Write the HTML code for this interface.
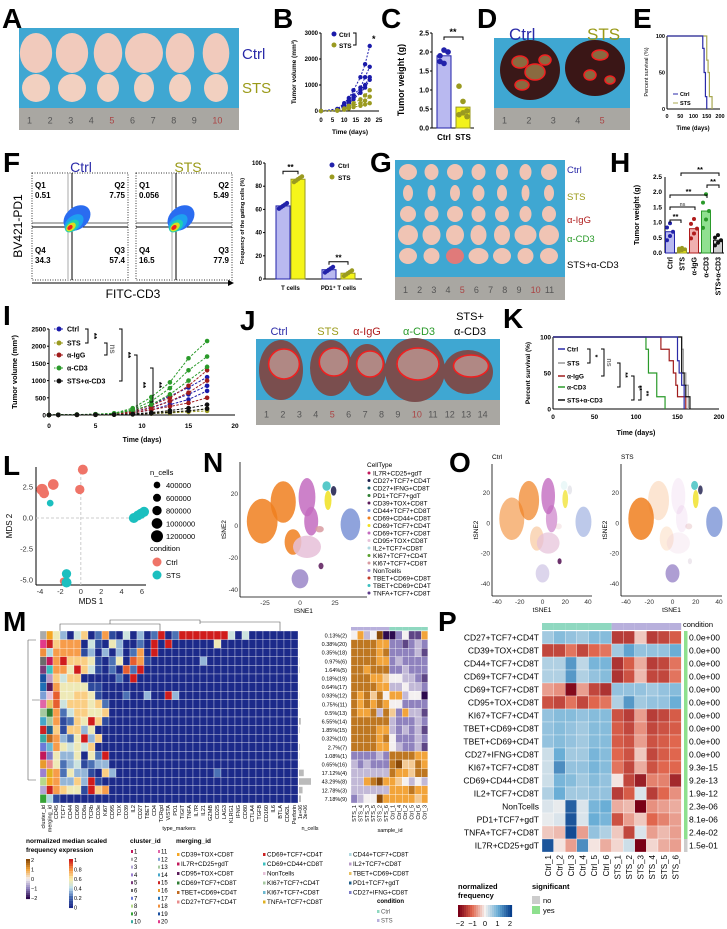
<!DOCTYPE html>
<html><head><meta charset="utf-8"><style>
html,body{margin:0;padding:0;background:#fff;}
svg{display:block;font-family:"Liberation Sans",Arial,sans-serif;}
</style></head><body>
<svg id="fig" xmlns="http://www.w3.org/2000/svg" width="727" height="929" viewBox="0 0 727 929">
<rect x="0" y="0" width="727" height="929" fill="#fff"/>
<g font-weight="bold" font-size="28" fill="#000">
<text x="2" y="28">A</text>
<text x="273" y="28">B</text>
<text x="381" y="28">C</text>
<text x="477" y="28">D</text>
<text x="633" y="28">E</text>
<text x="3" y="172">F</text>
<text x="370" y="172">G</text>
<text x="610" y="172">H</text>
<text x="3" y="325">I</text>
<text x="240" y="330">J</text>
<text x="503" y="328">K</text>
<text x="3" y="475">L</text>
<text x="203" y="472">N</text>
<text x="449" y="472">O</text>
<text x="3" y="631">M</text>
<text x="438" y="631">P</text>
</g>
</svg>
<script>
// ---------- DATA ----------
const bDays=[0,7,10,12,14,17,19,21];
const bCtrl=[[0,80,300,500,800,1300,1800,2500],[0,60,250,400,600,900,1300,1700],[0,50,200,350,500,800,1000,1300],[0,40,150,300,450,700,900,1200]];
const bSTS=[[0,30,100,200,300,450,600,800],[0,20,80,150,220,300,400,550],[0,10,50,100,150,200,250,300]];
const bYTicks=[0,1000,2000,3000];
const bXTicks=[0,5,10,15,20,25];
const cGroups=["Ctrl","STS"];
const cMeans=[1.9,0.55];
const cPoints=[[1.9,2.05,2.0,1.75,1.7,2.0],[1.1,0.7,0.45,0.35,0.4,0.3]];
const cTicks=[0.0,0.5,1.0,1.5,2.0,2.5];
const eCtrlT=[0,130,135,140,145,150];
const eCtrlP=[100,100,83,50,17,0];
const eSTST=[0,140,150,155,160,170];
const eSTSP=[100,100,67,50,17,0];
const eXTicks=[0,50,100,150,200];
const eYTicks=[0,50,100];
const fCats=["T cells","PD1⁺ T cells"];
const fCtrl=[63,8];
const fSTS=[86,5];
const fTicks=[0,20,40,60,80,100];
const hGroups=["Ctrl","STS","α-IgG","α-CD3","STS+α-CD3"];
const hMeans=[0.7,0.12,0.8,1.38,0.42];
const hTicks=[0.0,0.5,1.0,1.5,2.0,2.5];
const iDays=[0,1,3,5,7,9,11,13,15,17];
const iCtrl=[[0,5,10,20,40,120,300,550,800,1100],[0,5,10,15,30,90,220,400,600,850],[0,4,8,12,25,60,150,300,450,700]];
const iSTS=[[0,3,5,8,12,30,60,90,120,180],[0,2,4,6,10,20,40,60,90,120]];
const iIgG=[[0,5,10,20,40,120,280,500,850,1300],[0,5,10,15,30,90,200,400,650,1000],[0,4,8,12,25,60,150,250,350,500]];
const iCD3=[[0,6,12,25,50,200,520,950,1650,2150],[0,5,10,20,45,160,400,780,1300,1700],[0,5,10,18,40,130,300,600,1000,1400]];
const iCombo=[[0,3,5,8,12,30,70,130,200,300],[0,2,4,6,10,20,45,80,120,180]];
const iYTicks=[0,500,1000,1500,2000,2500];
const iXTicks=[0,5,10,15,20];
const kCtrlT=[0,145,150,152,155,158],kCtrlP=[100,100,67,50,33,0];
const kSTST=[0,152,155,157,160,163],kSTSP=[100,100,83,50,33,0];
const kIgGT=[0,130,140,145,148,150,160],kIgGP=[100,83,67,50,33,17,0];
const kCD3T=[0,112,115,125,135],kCD3P=[100,83,50,17,0];
const kComboT=[0,150,155,158,160,165],kComboP=[100,100,50,33,17,0];
const kXTicks=[0,50,100,150,200];
const kYTicks=[0,50,100];
const lCtrlX=[-3.8,-3.6,-2.7,0.2,-0.1,-1.7];
const lCtrlY=[2.3,2.0,2.7,3.9,2.3,-5.1];
const lCtrlN=[1100000,900000,1000000,900000,800000,500000];
const lSTSX=[-3.0,5.2,5.6,5.9,6.2,-1.4,-1.4];
const lSTSY=[1.2,0.0,0.2,0.35,0.5,-4.5,-5.2];
const lSTSN=[400000,900000,900000,900000,900000,800000,900000];
const lXTicks=[-4,-2,0,2,4,6];
const lYTicks=[2.5,0.0,-2.5,-5.0];
const lSizes=[400000,600000,800000,1000000,1200000];
const cellTypes=["IL7R+CD25+gdT","CD27+TCF7+CD4T","CD27+IFNG+CD8T","PD1+TCF7+gdT","CD39+TOX+CD8T","CD44+TCF7+CD8T","CD69+CD44+CD8T","CD69+TCF7+CD4T","CD69+TCF7+CD8T","CD95+TOX+CD8T","IL2+TCF7+CD8T","KI67+TCF7+CD4T","KI67+TCF7+CD8T","NonTcells","TBET+CD69+CD8T","TBET+CD69+CD4T","TNFA+TCF7+CD8T"];
const cellColors=["#c2185b","#1a1a4a","#1f5f6b","#2e7d32","#5a1a5a","#7b93d6","#f07f1e","#f0e020","#c36bc0","#e6c0d8","#b0d8e0","#5aa02c","#d89aa0","#9a86c8","#c0392b","#3bbfbf","#5b3a8a"];
const blobType=[6,6,6,8,8,9,13,5,7,15,1,4,12];
const blobCX=[-27,-12,-5,5,8,5,0,36,20,19,24,15,14];
const blobCY=[3,15,-10,18,3,-13,-33,1,16,25,22,-25,-2];
const blobRX=[11,9,6,6,5,10,6,7,2.5,3,2,1.8,3];
const blobRY=[14,13,8,12,9,7,6,10,6,3,3,2,2];
const oCtrlAlpha=[0.55,0.7,0.3,0.8,0.6,0.7,0.35,0.5,0.7,0.1,0.1,0.9,0.2];
const oSTSAlpha=[0.85,0.2,0.15,0.1,0.1,0.2,0.8,0.8,0.8,0.8,0.8,0.1,0.3];
const nTicksX=[-25,0,25],nTicksY=[20,0,-20,-40];
const oTicksX=[-40,-20,0,20,40],oTicksY=[20,0,-20,-40];
const mMarkers=["CD45","TCF7","CD44","CD69","CD8a","TCRb","CD3e","Ki67","CD95","TOX","CD39","IL2","CD27","TBET","CD4","TCRgd","VISTA","PD1","TIGIT","TNFA","IL7R","IL21","GZMB","CD25","LAG3","KLRG1","IFNG","CD80","CTLA4","TGFB","CD160","IL6","BTLA","CD62L","Perforin"];
const mRows=["53046027104030290299999994040000000","67770410530020909000000500000000000","77771303030270900000000000000000000","79666510250871000000030000000000000","77596410208290000000000000000000000","64660000020900000000000000000000000","75555110000000000000000000000000000","85566510002003009300000000000000000","84666562000000000000000000000000000","72466556000000000000000000000000000","71265961000000000000000000000000000","61663500000000000000000000000000000","73259360000000000000000000000000000","75454600000000000000000000000000000","53350529000000000000000000000000000","52341233000000000000000000000000000","72533106300000000000000200000000000","73363910000000000000000000000000000","76551967000000000000000000000000000","10000000000000000000000000000000000"];
const mClusters=[2,20,18,6,5,19,17,12,11,13,14,15,10,7,1,16,4,8,3,9];
const mPct=["0.13%(2)","0.38%(20)","0.35%(18)","0.97%(6)","1.64%(5)","0.18%(19)","0.64%(17)","0.93%(12)","0.75%(11)","0.5%(13)","6.55%(14)","1.85%(15)","0.32%(10)","2.7%(7)","1.08%(1)","0.65%(16)","17.12%(4)","43.29%(8)","12.78%(3)","7.18%(9)"];
const mCells=[0.13,0.38,0.35,0.97,1.64,0.18,0.64,0.93,0.75,0.5,6.55,1.85,0.32,2.7,1.08,0.65,17.12,43.29,12.78,7.18];
const sampleIds=["STS_1","STS_4","STS_3","STS_5","STS_2","STS_6","Ctrl_1","Ctrl_4","Ctrl_2","Ctrl_5","Ctrl_6","Ctrl_3"];
const sRows=["463480024116","777766221232","777767222231","777766232222","776777223222","777665443321","777766334332","767574663440","767676442222","766737526331","777777322232","777766323231","777767422232","777766432231","222232777766","323222785576","333333766577","336786654343","333333666766","234486666656"];
const clusterColors=["#c2185b","#aaaaaa","#b2a6d6","#9b7fd1","#7a3a7a","#6b6b6b","#6c7ad8","#b6d98a","#36a336","#3aa9a0","#e066a8","#7d9fd6","#a6c9a0","#45a6c9","#cc2222","#e89a2c","#1f6fb5","#f08f3c","#1a4fa0","#e23a8a"];
const mergeColors=["#f5a623","#cc2222","#b0d8e0","#c2185b","#3bbfbf","#b89bc8","#5a1a5a","#e6c0d8","#e8c060","#2e7d32","#a6c9a0","#1f5f8b","#c06a20","#6bb8d0","#7d7dc8","#e88c8c","#e0b020"];
const pRows=["CD27+TCF7+CD4T","CD39+TOX+CD8T","CD44+TCF7+CD8T","CD69+TCF7+CD4T","CD69+TCF7+CD8T","CD95+TOX+CD8T","KI67+TCF7+CD4T","TBET+CD69+CD8T","TBET+CD69+CD4T","CD27+IFNG+CD8T","KI67+TCF7+CD8T","CD69+CD44+CD8T","IL2+TCF7+CD8T","NonTcells","PD1+TCF7+gdT","TNFA+TCF7+CD8T","IL7R+CD25+gdT"];
const pCols=["Ctrl_1","Ctrl_2","Ctrl_3","Ctrl_4","Ctrl_5","Ctrl_6","STS_1","STS_2","STS_3","STS_4","STS_5","STS_6"];
const pVals=[
[.6,.8,.7,.6,.8,.8,-1.4,-1.4,-.3,-1.4,-1.3,-1.1],
[-1.3,-1.3,-.9,-1.3,-1.0,-.9,.6,1.1,.7,.7,.7,1.0],
[.5,.5,1.2,.4,.9,.9,-1.5,-1.1,-.5,-1.4,-1.3,-.9],
[.5,.5,1.2,.5,.7,.8,-1.5,-1.2,-.4,-1.3,-1.3,-.9],
[-.6,-.7,-1.9,-.6,-1.3,-1.5,.7,.7,.7,.6,.7,.8],
[-1.2,-1.3,-.9,-1.3,-1.0,-.9,.5,1.2,.6,.7,.7,1.0],
[.7,.8,.8,.7,.8,.8,-1.2,-1.4,-.6,-1.4,-1.3,-1.1],
[.7,.8,.7,.6,.8,.8,-1.1,-1.3,-.7,-1.3,-1.2,-1.1],
[.7,.8,.7,.6,.8,.8,-1.1,-1.2,-.6,-1.2,-1.1,-1.0],
[.3,1.0,.6,.6,.9,.8,-1.0,-1.2,-.3,-1.3,-1.1,-1.0],
[.3,1.3,.7,.7,.9,.8,-.9,-1.3,-.5,-1.2,-1.0,-1.0],
[.3,.9,.8,.6,.8,.7,-.1,-1.3,-1.7,-.8,-.8,-1.6],
[.5,1.0,.6,.6,.7,.7,-1.4,-1.1,.2,-1.4,-1.0,-.7],
[.2,.1,1.7,.2,.9,1.0,-.5,-.4,-2.0,-.7,-.6,-.5],
[.1,.2,1.8,.2,1.0,.9,-1.2,-.6,-.3,-1.0,-.8,-.6],
[-.3,-.4,1.9,-.6,.7,.5,-.3,-1.3,.2,-.6,-.4,-.6],
[1.8,-.1,-.6,1.3,-.1,-.5,-.2,.3,-2.0,-.2,-.5,-.6]];
const pPvals=["0.0e+00","0.0e+00","0.0e+00","0.0e+00","0.0e+00","0.0e+00","0.0e+00","0.0e+00","0.0e+00","0.0e+00","9.3e-15","9.2e-13","1.9e-12","2.3e-06","8.1e-06","2.4e-02","1.5e-01"];

// ---------- HELPERS ----------
const NS="http://www.w3.org/2000/svg";
const svg=document.getElementById('fig');
function el(tag,a,p){const e=document.createElementNS(NS,tag);for(const k in a)e.setAttribute(k,a[k]);(p||svg).appendChild(e);return e;}
function tx(x,y,s,a,p){const e=el('text',Object.assign({x:x,y:y,'font-size':8,fill:'#000'},a||{}),p);e.textContent=s;return e;}
function grp(name){const g=el('g',{});return g;}
function lin(d0,d1,r0,r1){return v=>r0+(v-d0)*(r1-r0)/(d1-d0);}
function line(x1,y1,x2,y2,a,p){return el('line',Object.assign({x1:x1,y1:y1,x2:x2,y2:y2,stroke:'#000','stroke-width':1},a||{}),p);}
function lerp(c1,c2,t){const a=[1,3,5].map(i=>parseInt(c1.substr(i,2),16)),b=[1,3,5].map(i=>parseInt(c2.substr(i,2),16));return 'rgb('+a.map((v,i)=>Math.round(v+(b[i]-v)*t)).join(',')+')';}
function ramp(stops,t){t=Math.max(0,Math.min(1,t));const n=stops.length-1;const i=Math.min(n-1,Math.floor(t*n));return lerp(stops[i],stops[i+1],t*n-i);}
const expRamp=["#1c2a8a","#3d63ad","#bfe0ee","#fbeca6","#f7923e","#d01c1c"];
const freqRamp=["#2d0a4e","#8f82be","#f4f0f0","#f2a43a","#8a4a08"];
const pRamp=["#7a0016","#e0664e","#f6f2f0","#6aaed6","#083f8c"];

function photo(name,x,y,w,h,rulerH,nums){
  const g=grp(name);
  const bg=el('rect',{x:x,y:y,width:w,height:h,fill:'#3fa7d2'},g);
  
  const ru=el('rect',{x:x,y:y+h-rulerH,width:w,height:rulerH,fill:'#a9a7a2'},g);
  
  for(let i=0;i<nums;i++){const t=tx(x+8+i*(w-14)/nums,y+h-rulerH*0.3,String(i+1),{'font-size':Math.min(9,rulerH*0.45),fill:i==4||i==9?'#a44':'#555'},g);}
  return g;
}
function tumor(g,cx,cy,rx,ry,fill,name){const e=el('ellipse',{cx:cx,cy:cy,rx:rx,ry:ry,fill:fill},g);return e;}

// ---------- A ----------
{const g=photo('panel-a-photo',19,28,220,102,22,10);
 const rw=[17,17,15,20,15,14],rs=[14,14,11,10,11,12];
 for(let i=0;i<6;i++){tumor(g,36+i*36,53,rw[i]*0.95,20,'#f1cabc','tumor-ctrl');tumor(g,36+i*36,88,rs[i],14,'#f2d0c0','tumor-sts');}
 const t1=tx(242,59,'Ctrl',{'font-size':15,fill:'#2a2aa8'});
 const t2=tx(242,93,'STS',{'font-size':15,fill:'#9a9a18'});}

// ---------- B ----------
{const g=grp('panel-b-tumor-growth');const X=lin(0,25,321,379),Y=lin(0,3000,111,33);
 line(321,33,321,111,{},g);line(321,111,379,111,{},g);
 bYTicks.forEach(v=>{const t=tx(318,Y(v)+2,String(v),{'font-size':6,'text-anchor':'end','font-weight':'bold'},g);line(319,Y(v),321,Y(v),{},g);});
 bXTicks.forEach(v=>{const t=tx(X(v),122,String(v),{'font-size':6,'text-anchor':'middle','font-weight':'bold'},g);});
 const xt=tx(350,134,'Time (days)',{'font-size':6.5,'text-anchor':'middle','font-weight':'bold'},g);
 const yt=tx(0,0,'Tumor volume (mm³)',{'font-size':6.5,'text-anchor':'middle','font-weight':'bold',transform:'translate(296,72) rotate(-90)'},g);
 [[bCtrl,'#1a1aaa','ctrl'],[bSTS,'#9a9a20','sts']].forEach(([set,c,n])=>set.forEach(s=>{
  const pl=el('polyline',{points:s.map((v,i)=>X(bDays[i])+','+Y(v)).join(' '),fill:'none',stroke:c,'stroke-width':1,'stroke-dasharray':'2,1.5'},g);
  s.forEach((v,i)=>{const d=el('circle',{cx:X(bDays[i]),cy:Y(v),r:2.2,fill:c},g);});}));
 const l1=el('circle',{cx:334,cy:34,r:2.5,fill:'#1a1aaa'},g);
 const l2=el('circle',{cx:334,cy:45,r:2.5,fill:'#9a9a20'},g);
 const t1=tx(339,37,'Ctrl',{'font-size':6.5,'font-weight':'bold'},g);
 const t2=tx(339,48,'STS',{'font-size':6.5,'font-weight':'bold'},g);
 const br=el('polyline',{points:'353,33 356,33 356,45 353,45',fill:'none',stroke:'#000'},g);
 const st=tx(372,42,'*',{'font-size':9,'font-weight':'bold'},g);}

// ---------- C ----------
{const g=grp('panel-c-tumor-weight');const Y=lin(0,2.5,128,33);
 line(432,33,432,128,{},g);line(432,128,474,128,{},g);
 cTicks.forEach(v=>{const t=tx(429,Y(v)+2.5,v.toFixed(1),{'font-size':7,'text-anchor':'end','font-weight':'bold'},g);line(430,Y(v),432,Y(v),{},g);});
 const yt=tx(0,0,'Tumor weight (g)',{'font-size':9,'text-anchor':'middle','font-weight':'bold',transform:'translate(404,80) rotate(-90)'},g);
 const cx=[444,463],fills=['#b9b9f0','#f2f21a'],strokes=['#2222aa','#9a9a20'];
 cGroups.forEach((gname,i)=>{const r=el('rect',{x:cx[i]-7,y:Y(cMeans[i]),width:14,height:128-Y(cMeans[i]),fill:fills[i],stroke:strokes[i]},g);
  cPoints[i].forEach((v,j)=>{const d=el('circle',{cx:cx[i]-4+(j%3)*4,cy:Y(v),r:2.8,fill:strokes[i]},g);});
  const t=tx(cx[i],140,gname,{'font-size':8,'text-anchor':'middle','font-weight':'bold'},g);});
 const br=el('polyline',{points:'444,40 444,37 463,37 463,40',fill:'none',stroke:'#000'},g);
 const st=tx(453,35,'**',{'font-size':9,'text-anchor':'middle','font-weight':'bold'},g);}

// ---------- D ----------
{const g=photo('panel-d-photo',494,38,136,92,22,5);
 tumor(g,530,70,30,30,'#3a1818','liver-ctrl');tumor(g,595,68,30,28,'#3a1616','liver-sts');
 [[520,62,8,6],[535,72,10,8],[545,60,6,5],[522,85,7,5],[600,55,8,5],[590,75,6,5],[610,80,5,4]].forEach(a=>{const e=el('ellipse',{cx:a[0],cy:a[1],rx:a[2],ry:a[3],fill:'#8a6a40',stroke:'#f02020','stroke-width':1.5},g);});
 const t1=tx(509,40,'Ctrl',{'font-size':17,fill:'#2a2aa8'});
 const t2=tx(587,40,'STS',{'font-size':17,fill:'#9a9a18'});}

// ---------- E ----------
{const g=grp('panel-e-survival');const X=lin(0,200,667,720),Y=lin(0,100,109,36);
 line(667,36,667,109,{},g);line(667,109,720,109,{},g);
 eXTicks.forEach(v=>{const t=tx(X(v),118,String(v),{'font-size':5.5,'text-anchor':'middle','font-weight':'bold'},g);});
 eYTicks.forEach(v=>{const t=tx(665,Y(v)+2,String(v),{'font-size':5.5,'text-anchor':'end','font-weight':'bold'},g);});
 const xt=tx(693,130,'Time (days)',{'font-size':6,'text-anchor':'middle','font-weight':'bold'},g);
 const yt=tx(0,0,'Percent survival (%)',{'font-size':5.5,'text-anchor':'middle',transform:'translate(648,72) rotate(-90)'},g);
 function step(T,P,c,n){let pts=[];for(let i=0;i<T.length;i++){if(i>0)pts.push(X(T[i])+','+Y(P[i-1]));pts.push(X(T[i])+','+Y(P[i]));}const p=el('polyline',{points:pts.join(' '),fill:'none',stroke:c,'stroke-width':1.2},g);}
 step(eSTST,eSTSP,'#a8a850','e-curve-sts');step(eCtrlT,eCtrlP,'#2a2aa8','e-curve-ctrl');
 line(673,94,678,94,{stroke:'#2a2aa8'},g);line(673,103,678,103,{stroke:'#a8a850'},g);
 const t1=tx(680,96,'Ctrl',{'font-size':5.5,'font-weight':'bold'},g);
 const t2=tx(680,105,'STS',{'font-size':5.5,'font-weight':'bold'},g);}

// ---------- F flow ----------
function flow(ox,name,q){const g=grp(name);
 const b=el('rect',{x:ox,y:173,width:96,height:107,fill:'none',stroke:'#333','stroke-dasharray':'1,1.5'},g);
 line(ox+40,173,ox+40,280,{},g);line(ox,227,ox+96,227,{},g);line(ox,223,ox+96,223,{stroke:'#666'},g);line(ox+36,173,ox+36,280,{stroke:'#aaa'},g);
 const cx=ox+40,cy=226;
 [['#2a6cf0',cx+5,cy-8,15,11],['#1ea0f0',cx+2,cy-3,11,7],['#20d0b0',cx,cy,8,5],['#d8e020',cx-1,cy+1,5.5,3.5],['#f02020',cx-2,cy+1.5,3,2]].forEach(c=>{const e=el('ellipse',{cx:c[1],cy:c[2],rx:c[3],ry:c[4],fill:c[0],transform:'rotate(-40 '+c[1]+' '+c[2]+')'},g);});
 const labs=[['Q1',3,188],[q[0],3,198],['Q2',93,188,'end'],[q[1],93,198,'end'],['Q4',3,253],[q[3],3,263],['Q3',93,253,'end'],[q[2],93,263,'end']];
 labs.forEach(l=>{const t=tx(ox+l[1],l[2],l[0],{'font-size':8,'font-weight':'bold','text-anchor':l[3]||'start'},g);});}
flow(32,'flow-ctrl',['0.51','7.75','57.4','34.3']);flow(136,'flow-sts',['0.056','5.49','77.9','16.5']);
{const a=el('line',{x1:32,y1:283,x2:230,y2:283,stroke:'#000'});
 const ah=el('polygon',{points:'234,283 228,280 228,286',fill:'#000'});
 const t1=tx(81,172,'Ctrl',{'font-size':14,fill:'#2a2aa8','text-anchor':'middle'});
 const t2=tx(188,172,'STS',{'font-size':14,fill:'#9a9a18','text-anchor':'middle'});
 const t3=tx(133,298,'FITC-CD3',{'font-size':12,'text-anchor':'middle'});
 const t4=tx(0,0,'BV421-PD1',{'font-size':12,'text-anchor':'middle',transform:'translate(22,226) rotate(-90)'});}
{const g=grp('panel-f-bar');const Y=lin(0,100,279,163);
 line(265,163,265,279,{},g);line(265,279,362,279,{},g);
 fTicks.forEach(v=>{const t=tx(262,Y(v)+2,String(v),{'font-size':6,'text-anchor':'end','font-weight':'bold'},g);line(263,Y(v),265,Y(v),{},g);});
 const yt=tx(0,0,'Frequency of the gating cells (%)',{'font-size':5.5,'text-anchor':'middle','font-weight':'bold',transform:'translate(244,221) rotate(-90)'},g);
 const cx=[[283,298],[329,348]];
 fCats.forEach((c,i)=>{[[fCtrl[i],'#b9b9f0','#2222aa','ctrl'],[fSTS[i],'#f5f51a','#9a9a20','sts']].forEach((d,j)=>{const r=el('rect',{x:cx[i][j]-7,y:Y(d[0]),width:14,height:279-Y(d[0]),fill:d[1],stroke:d[2]},g);
   for(let k=0;k<5;k++){const p=el('circle',{cx:cx[i][j]-4+k*2,cy:Y(d[0]+(k-2)*1.2),r:2.2,fill:d[2]},g);}});
  const t=tx((cx[i][0]+cx[i][1])/2,290,c,{'font-size':6,'text-anchor':'middle','font-weight':'bold'},g);
  const yb=Y(Math.max(fCtrl[i],fSTS[i]))-8;const br=el('polyline',{points:cx[i][0]+','+(yb+3)+' '+cx[i][0]+','+yb+' '+cx[i][1]+','+yb+' '+cx[i][1]+','+(yb+3),fill:'none',stroke:'#000'},g);
  const s=tx((cx[i][0]+cx[i][1])/2,yb-1,'**',{'font-size':8,'text-anchor':'middle','font-weight':'bold'},g);});
 const m1=el('circle',{cx:332,cy:165,r:2.5,fill:'#2222aa'},g);
 const m2=el('circle',{cx:332,cy:177,r:2.5,fill:'#9a9a20'},g);
 const t1=tx(338,168,'Ctrl',{'font-size':6.5,'font-weight':'bold'},g);
 const t2=tx(338,180,'STS',{'font-size':6.5,'font-weight':'bold'},g);}

// ---------- G ----------
{const g=photo('panel-g-photo',395,160,170,140,23,11);
 const rx=[[9,7,8,7,6,6,8],[5,4,5,6,5,4,5],[8,7,8,7,7,6,7],[10,9,9,8,8,11,10],[9,8,9,10,9,8,9]];
 for(let r=0;r<5;r++)for(let c=0;c<7;c++){tumor(g,408+c*23.5,172+r*21,rx[r][c],r==3?10:8,(r==4&&c==2)?'#e07a7a':'#f0c4b4','tumor-g');}
 const labs=[['Ctrl',170,'#2a2aa8'],['STS',197,'#9a9a18'],['α-IgG',220,'#b01c1c'],['α-CD3',239,'#2a9a2a'],['STS+α-CD3',265,'#000']];
 labs.forEach(l=>{const t=tx(567,l[1]+3,l[0],{'font-size':9.5,fill:l[2]});});}

// ---------- H ----------
{const g=grp('panel-h-tumor-weight');const Y=lin(0,2.5,253,177);
 line(665,177,665,253,{},g);line(665,253,724,253,{},g);
 hTicks.forEach(v=>{const t=tx(662,Y(v)+2,v.toFixed(1),{'font-size':6.5,'text-anchor':'end','font-weight':'bold'},g);});
 const yt=tx(0,0,'Tumor weight (g)',{'font-size':7.5,'text-anchor':'middle','font-weight':'bold',transform:'translate(639,215) rotate(-90)'},g);
 const fills=['#b9b9f0','#f2f21a','#f0b0b0','#90e090','#d0d0d0'],str=['#2222aa','#9a9a20','#b01c1c','#2a9a2a','#111'];
 hGroups.forEach((n,i)=>{const x=670+i*12;const r=el('rect',{x:x-4.5,y:Y(hMeans[i]),width:9,height:253-Y(hMeans[i]),fill:fills[i],stroke:str[i]},g);
  for(let k=0;k<5;k++){const p=el('circle',{cx:x-3+(k%3)*3,cy:Y(hMeans[i]*(0.6+k*0.2)),r:2,fill:str[i]},g);}
  const t=tx(0,0,n,{'font-size':7,'text-anchor':'end','font-weight':'bold',transform:'translate('+(x+2.5)+',257) rotate(-90)'},g);});
 [[670,681,220,'**'],[670,695,207,'ns'],[670,707,195,'**'],[707,719,185,'**'],[681,719,173,'**']].forEach(b=>{const br=el('polyline',{points:b[0]+','+(b[2]+3)+' '+b[0]+','+b[2]+' '+b[1]+','+b[2]+' '+b[1]+','+(b[2]+3),fill:'none',stroke:'#000'},g);
  const s=tx((b[0]+b[1])/2,b[2]-1,b[3],{'font-size':b[3]=='ns'?5:7.5,'text-anchor':'middle','font-weight':'bold',fill:b[3]=='ns'?'#666':'#000'},g);});}

// ---------- I ----------
{const g=grp('panel-i-tumor-growth');const X=lin(0,20,49,235),Y=lin(0,2500,415,329);
 line(49,329,49,415,{},g);line(49,415,235,415,{},g);
 iYTicks.forEach(v=>{const t=tx(46,Y(v)+2.5,String(v),{'font-size':6.5,'text-anchor':'end','font-weight':'bold'},g);line(47,Y(v),49,Y(v),{},g);});
 iXTicks.forEach(v=>{const t=tx(X(v),428,String(v),{'font-size':6.5,'text-anchor':'middle','font-weight':'bold'},g);});
 const xt=tx(142,442,'Time (days)',{'font-size':7,'text-anchor':'middle','font-weight':'bold'},g);
 const yt=tx(0,0,'Tumor volume (mm³)',{'font-size':7.5,'text-anchor':'middle','font-weight':'bold',transform:'translate(17,372) rotate(-90)'},g);
 const sets=[[iCtrl,'#1a1aaa','Ctrl'],[iSTS,'#9a9a20','STS'],[iIgG,'#a01c1c','α-IgG'],[iCD3,'#2a9a2a','α-CD3'],[iCombo,'#111','STS+α-CD3']];
 sets.forEach(([set,c,n])=>set.forEach(s=>{const pl=el('polyline',{points:s.map((v,i)=>X(iDays[i])+','+Y(v)).join(' '),fill:'none',stroke:c,'stroke-width':1,'stroke-dasharray':'2.5,1.5'},g);
  s.forEach((v,i)=>{const d=el('circle',{cx:X(iDays[i]),cy:Y(v),r:2.3,fill:c},g);});}));
 const ly=[329,343,355,368,381];
 sets.forEach((s,i)=>{const m=el('circle',{cx:59,cy:ly[i],r:2.5,fill:s[1]},g);line(54,ly[i],64,ly[i],{stroke:s[1],'stroke-dasharray':'1.5,1'},g);
  const t=tx(67,ly[i]+2.5,s[2],{'font-size':7,'font-weight':'bold'},g);});
 [[88,329,343,'**',97],[107,343,355,'ns',110],[122,329,381,'**',130],[137,355,415,'**',146],[153,368,402,'**',160]].forEach(b=>{const br=el('polyline',{points:(b[0]-3)+','+b[1]+' '+b[0]+','+b[1]+' '+b[0]+','+b[2]+' '+(b[0]-3)+','+b[2],fill:'none',stroke:'#000'},g);
  const s=tx(0,0,b[3],{'font-size':8,'font-weight':'bold','text-anchor':'middle',fill:b[3]=='ns'?'#777':'#000',transform:'translate('+(b[0]+3)+','+((b[1]+b[2])/2)+') rotate(90)'},g);});}

// ---------- J ----------
{const g=photo('panel-j-photo',256,339,244,86,25,14);
 [[281,370,22,30],[331,368,21,28],[367,370,19,26],[415,370,30,32],[468,372,25,22]].forEach(a=>{const e=el('ellipse',{cx:a[0],cy:a[1],rx:a[2],ry:a[3],fill:'#7a4e4e'},g);
  const c=el('ellipse',{cx:a[0]+3,cy:a[1]-6,rx:a[2]*0.7,ry:a[3]*0.5,fill:'#b08884',stroke:'#f02020','stroke-width':1.6},g);});
 const labs=[['Ctrl',279,'#2a2aa8'],['STS',328,'#9a9a18'],['α-IgG',367,'#b01c1c'],['α-CD3',419,'#2a9a2a'],['α-CD3',470,'#000']];
 labs.forEach(l=>{const t=tx(l[1],335,l[0],{'font-size':11,fill:l[2],'text-anchor':'middle'});});
 const t=tx(470,320,'STS+',{'font-size':11,'text-anchor':'middle'});}

// ---------- K ----------
{const g=grp('panel-k-survival');const X=lin(0,200,553,719),Y=lin(0,100,409,337);
 line(553,337,553,409,{},g);line(553,409,719,409,{},g);
 kXTicks.forEach(v=>{const t=tx(X(v),419,String(v),{'font-size':6.5,'text-anchor':'middle','font-weight':'bold'},g);});
 kYTicks.forEach(v=>{const t=tx(551,Y(v)+2.5,String(v),{'font-size':6.5,'text-anchor':'end','font-weight':'bold'},g);});
 const xt=tx(636,435,'Time (days)',{'font-size':7,'text-anchor':'middle','font-weight':'bold'},g);
 const yt=tx(0,0,'Percent survival (%)',{'font-size':6.5,'text-anchor':'middle','font-weight':'bold',transform:'translate(530,373) rotate(-90)'},g);
 function step(T,P,c,n,dash){let pts=[];for(let i=0;i<T.length;i++){if(i>0)pts.push(X(T[i])+','+Y(P[i-1]));pts.push(X(T[i])+','+Y(P[i]));}const p=el('polyline',{points:pts.join(' '),fill:'none',stroke:c,'stroke-width':1.2,'stroke-dasharray':dash||'none'},g);}
 step(kCD3T,kCD3P,'#2a9a2a','k-curve-cd3');step(kSTST,kSTSP,'#999','k-curve-sts');step(kIgGT,kIgGP,'#a01c1c','k-curve-igg');step(kComboT,kComboP,'#111','k-curve-combo');step(kCtrlT,kCtrlP,'#2a2aa8','k-curve-ctrl');
 const ly=[349,363,376,387,400],lc=['#2a2aa8','#999','#a01c1c','#2a9a2a','#111'],ln=['Ctrl','STS','α-IgG','α-CD3','STS+α-CD3'];
 ln.forEach((n,i)=>{line(558,ly[i],565,ly[i],{stroke:lc[i],'stroke-width':1.5},g);const t=tx(567,ly[i]+2.5,n,{'font-size':6.5,'font-weight':'bold'},g);});
 [[590,349,363,'*'],[604,349,376,'ns'],[620,363,387,'**'],[634,376,400,'**'],[641,387,400,'**']].forEach(b=>{const br=el('polyline',{points:(b[0]-3)+','+b[1]+' '+b[0]+','+b[1]+' '+b[0]+','+b[2]+' '+(b[0]-3)+','+b[2],fill:'none',stroke:'#000'},g);
  const s=tx(0,0,b[3],{'font-size':7,'font-weight':'bold','text-anchor':'middle',fill:b[3]=='ns'?'#777':'#000',transform:'translate('+(b[0]+3)+','+((b[1]+b[2])/2)+') rotate(90)'},g);});}

// ---------- L ----------
{const g=grp('panel-l-mds');const X=lin(-4,6,40,142),Y=lin(0,2.5,518,487);
 line(36,467,36,585,{},g);line(36,585,146,585,{},g);
 line(X(0),467,X(0),585,{stroke:'#ccc','stroke-dasharray':'3,2'},g);line(36,Y(0),146,Y(0),{stroke:'#ccc','stroke-dasharray':'3,2'},g);
 lXTicks.forEach(v=>{const t=tx(X(v),594,String(v),{'font-size':7.5,'text-anchor':'middle',fill:'#333'},g);});
 lYTicks.forEach(v=>{const t=tx(33,Y(v)+2.5,v.toFixed(1),{'font-size':7.5,'text-anchor':'end',fill:'#333'},g);});
 const xt=tx(91,604,'MDS 1',{'font-size':8,'text-anchor':'middle'},g);
 const yt=tx(0,0,'MDS 2',{'font-size':8,'text-anchor':'middle',transform:'translate(12,526) rotate(-90)'},g);
 const R=n=>2+n/1200000*4;
 lCtrlX.forEach((v,i)=>{const c=el('circle',{cx:X(v),cy:Y(lCtrlY[i]),r:R(lCtrlN[i]),fill:'#ef7468'},g);});
 lSTSX.forEach((v,i)=>{const c=el('circle',{cx:X(v),cy:Y(lSTSY[i]),r:R(lSTSN[i]),fill:'#1bbfbf'},g);});
 const t0=tx(150,475,'n_cells',{'font-size':7.5},g);
 lSizes.forEach((s,i)=>{const c=el('circle',{cx:157,cy:485+i*12.8,r:R(s),fill:'#000'},g);const t=tx(166,488+i*12.8,String(s),{'font-size':7.5},g);});
 const t1=tx(150,551,'condition',{'font-size':7.5},g);
 [['Ctrl','#ef7468',562],['STS','#1bbfbf',575]].forEach(d=>{const c=el('circle',{cx:157,cy:d[2],r:4.5,fill:d[1]},g);const t=tx(166,d[2]+3,d[0],{'font-size':7.5},g);});}

// ---------- N & O ----------
function tsne(name,X,Y,alpha,axL,axR,axT,axB,xt,yt,title){const g=grp(name);
 blobType.forEach((t,i)=>{const a=alpha?alpha[i]:0.85;const e=el('ellipse',{cx:X(blobCX[i]),cy:Y(blobCY[i]),rx:Math.abs(X(blobRX[i])-X(0)),ry:Math.abs(Y(blobRY[i])-Y(0)),fill:cellColors[t],'fill-opacity':a},g);});
 line(axL,axT,axL,axB,{'stroke-width':0.8},g);line(axL,axB,axR,axB,{'stroke-width':0.8},g);
 xt.forEach(v=>{const t=tx(X(v),axB+8,String(v),{'font-size':6.5,'text-anchor':'middle',fill:'#333'},g);});
 yt.forEach(v=>{const t=tx(axL-2,Y(v)+2,String(v),{'font-size':6.5,'text-anchor':'end',fill:'#333'},g);});
 const a=tx((axL+axR)/2,axB+16,'tSNE1',{'font-size':6.5,'text-anchor':'middle'},g);
 const b=tx(0,0,'tSNE2',{'font-size':6.5,'text-anchor':'middle',transform:'translate('+(axL-14)+','+((axT+axB)/2)+') rotate(-90)'},g);
 if(title){const t=tx(axL,axT-5,title,{'font-size':6.5},g);}}
tsne('panel-n-tsne',lin(0,25,300,335),lin(0,20,526,494),null,240,367,462,597,nTicksX,nTicksY,null);
tsne('panel-o-tsne-ctrl',lin(-40,40,497,588),lin(-40,20,584,493),oCtrlAlpha,492,592,464,596,oTicksX,oTicksY,'Ctrl');
tsne('panel-o-tsne-sts',lin(-40,40,626,719),lin(-40,20,584,493),oSTSAlpha,621,722,464,596,oTicksX,oTicksY,'STS');
{const g=grp('panel-n-legend');const t=tx(367,467,'CellType',{'font-size':6.5},g);
 cellTypes.forEach((c,i)=>{const d=el('circle',{cx:369,cy:473+i*7.5,r:1.5,fill:cellColors[i]},g);const e=tx(373,475.5+i*7.5,c,{'font-size':6.5},g);});}

// ---------- M ----------
{const g=grp('panel-m-heatmap');const x0=53,cw=7,y0=631,rh=8.6;
 const dg=el('path',{d:'M60 631 V624 H160 V631 M110 624 V620 H200 V624 M200 620 V622 H280 V631 M28 640 H36 M28 640 V780 M28 780 H36 M32 700 H40',fill:'none',stroke:'#555','stroke-width':0.6},g);
 mRows.forEach((row,r)=>{
  const a=el('rect',{x:40,y:y0+r*rh,width:6.5,height:rh,fill:clusterColors[mClusters[r]-1],stroke:'#fff','stroke-width':0.3},g);
  const b=el('rect',{x:46.5,y:y0+r*rh,width:6.5,height:rh,fill:mergeColors[r%mergeColors.length],stroke:'#fff','stroke-width':0.3},g);
  for(let c=0;c<mMarkers.length;c++){const v=parseInt(row[c])/9;const cell=el('rect',{x:x0+c*cw,y:y0+r*rh,width:cw,height:rh,fill:ramp(expRamp,v),stroke:'#fff','stroke-width':0.3},g);}
  const bw=mCells[r]/43.29*12;const bar=el('rect',{x:299,y:y0+r*rh+1,width:bw,height:rh-2,fill:'#bbb'},g);
  const t=tx(347,y0+r*rh+6.5,mPct[r],{'font-size':5.5,'text-anchor':'end'},g);
  for(let c=0;c<12;c++){const v=(parseInt(sRows[r][c])-4)/2;const s=el('rect',{x:351+c*6.4,y:y0+r*rh,width:6.4,height:rh,fill:ramp(freqRamp,(v+2)/4),stroke:'#fff','stroke-width':0.3},g);}
 });
 for(let c=0;c<12;c++){const s=el('rect',{x:351+c*6.4,y:627,width:6.4,height:3.5,fill:c<6?'#b8b0dc':'#8fd8c0'},g);}
 ['cluster_id','merging_id'].concat(mMarkers).forEach((m,i)=>{const x=i<2?40+i*6.5+5:x0+(i-2)*cw+5;const t=tx(0,0,m,{'font-size':5.5,'text-anchor':'end',transform:'translate('+x+',805) rotate(-90)'},g);});
 sampleIds.forEach((s,i)=>{const t=tx(0,0,s,{'font-size':5.5,'text-anchor':'end',transform:'translate('+(351+i*6.4+5)+',805) rotate(-90)'},g);});
 ['1e+06','3e+06'].forEach((s,i)=>{const t=tx(0,0,s,{'font-size':5,'text-anchor':'end',transform:'translate('+(302+i*5)+',805) rotate(-90)'},g);});
 const a=tx(179,830,'type_markers',{'font-size':5.5,'text-anchor':'middle'},g);
 const b=tx(310,830,'n_cells',{'font-size':5.5,'text-anchor':'middle'},g);
 const c2=tx(390,832,'sample_id',{'font-size':5.5,'text-anchor':'middle'},g);}
{const g=grp('panel-m-legends');
 const h1=tx(26,843,'normalized median scaled',{'font-size':6.5,'font-weight':'bold'},g);
 const h2=tx(26,852,'frequency   expression',{'font-size':6.5,'font-weight':'bold'},g);
 for(let i=0;i<20;i++){const r=el('rect',{x:26,y:859+i*2,width:4,height:2.1,fill:ramp(freqRamp,1-i/19)},g);
  const r2=el('rect',{x:69,y:859+i*2.45,width:4,height:2.5,fill:ramp(expRamp,1-i/19)},g);}
 ['2','1','0','−1','−2'].forEach((s,i)=>{const t=tx(31,862+i*9.5,s,{'font-size':5.5},g);});
 ['1','0.8','0.6','0.4','0.2','0'].forEach((s,i)=>{const t=tx(74,862+i*9.5,s,{'font-size':5.5},g);});
 const ct=tx(130,843,'cluster_id',{'font-size':6.5,'font-weight':'bold'},g);
 for(let i=0;i<20;i++){const x=i<10?131:158,y=853+(i%10)*7.8;const r=el('rect',{x:x,y:y-3,width:2,height:3,fill:clusterColors[i]},g);const t=tx(x+3,y+0.5,String(i+1),{'font-size':6},g);}
 const mt=tx(176,843,'merging_id',{'font-size':6.5,'font-weight':'bold'},g);
 const mLab=["CD39+TOX+CD8T","CD69+TCF7+CD4T","CD44+TCF7+CD8T","IL7R+CD25+gdT","CD69+CD44+CD8T","IL2+TCF7+CD8T","CD95+TOX+CD8T","NonTcells","TBET+CD69+CD8T","CD69+TCF7+CD8T","KI67+TCF7+CD4T","PD1+TCF7+gdT","TBET+CD69+CD4T","KI67+TCF7+CD8T","CD27+IFNG+CD8T","CD27+TCF7+CD4T","TNFA+TCF7+CD8T"];
 mLab.forEach((s,i)=>{const x=[177,263,349][i%3],y=856+Math.floor(i/3)*9.5;const r=el('rect',{x:x,y:y-3,width:2.5,height:3,fill:mergeColors[i]},g);const t=tx(x+4,y+0.5,s,{'font-size':6.3},g);});
 const cdt=tx(377,903,'condition',{'font-size':6,'font-weight':'bold'},g);
 [['Ctrl','#8fd8c0',913],['STS','#b8b0dc',922]].forEach(d=>{const r=el('rect',{x:377,y:d[2]-3,width:2.5,height:3,fill:d[1]},g);const t=tx(381,d[2]+0.5,d[0],{'font-size':6,fill:'#555'},g);});}

// ---------- P ----------
{const g=grp('panel-p-heatmap');const x0=542,cw=11.6,y0=631,rh=13;
 pCols.forEach((c,i)=>{const r=el('rect',{x:x0+i*cw,y:623,width:cw,height:7,fill:i<6?'#8fd8c0':'#b8b0dc'},g);
  const t=tx(0,0,c,{'font-size':8,'text-anchor':'end',transform:'translate('+(x0+i*cw+cw/2+3)+','+(y0+17*rh+3)+') rotate(-90)'},g);});
 const ct=tx(683,627,'condition',{'font-size':7.5},g);
 pRows.forEach((n,r)=>{const t=tx(539,y0+r*rh+9.5,n,{'font-size':8.5,'text-anchor':'end'},g);
  pVals[r].forEach((v,c)=>{const cell=el('rect',{x:x0+c*cw,y:y0+r*rh,width:cw,height:rh,fill:ramp(pRamp,(v+2)/4),stroke:'#fff','stroke-width':0.3},g);});
  const sig=el('rect',{x:684,y:y0+r*rh,width:3.5,height:rh,fill:r==16?'#ccc':'#8ee08e'},g);
  const pv=tx(689,y0+r*rh+9.5,pPvals[r],{'font-size':8.5},g);});
 const h1=tx(458,889,'normalized',{'font-size':7.5,'font-weight':'bold'},g);
 const h2=tx(458,898,'frequency',{'font-size':7.5,'font-weight':'bold'},g);
 for(let i=0;i<27;i++){const r=el('rect',{x:458+i*2,y:905,width:2.1,height:12,fill:ramp(pRamp,i/26)},g);}
 ['−2','−1','0','1','2'].forEach((s,i)=>{const t=tx(460+i*12.5,926,s,{'font-size':7.5,'text-anchor':'middle'},g);});
 const s1=tx(532,889,'significant',{'font-size':7.5,'font-weight':'bold'},g);
 [['no','#ccc',896],['yes','#8ee08e',906]].forEach(d=>{const r=el('rect',{x:532,y:d[2],width:8,height:8,fill:d[1]},g);const t=tx(543,d[2]+7,d[0],{'font-size':7.5},g);});}
</script>
</body></html>
